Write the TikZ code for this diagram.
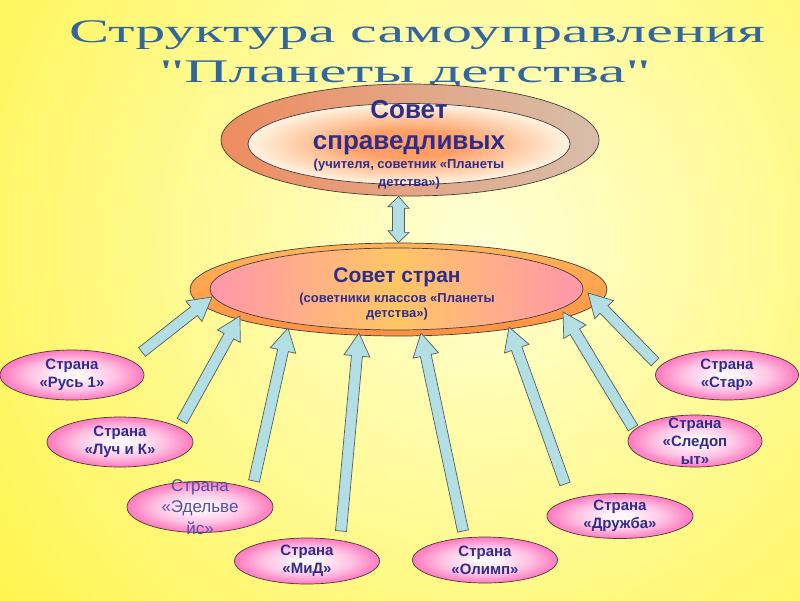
\documentclass[tikz,border=0pt]{standalone}
\usepackage{fontspec}
\setmainfont{Liberation Sans}
\newfontfamily\titlefont{Liberation Serif}
\usetikzlibrary{shapes.geometric,calc}
\definecolor{bgin}{RGB}{255,255,214}
\definecolor{bgout}{RGB}{255,244,70}
\definecolor{tblue}{RGB}{50,102,158}
\definecolor{nblue}{RGB}{46,46,138}
\definecolor{eblue}{RGB}{80,80,170}
\definecolor{abl}{RGB}{178,222,228}
\definecolor{aline}{RGB}{80,95,95}
\definecolor{eline}{RGB}{70,60,60}
\definecolor{pk}{RGB}{255,120,190}
\definecolor{pkm}{RGB}{255,195,228}
\definecolor{pkc}{RGB}{255,246,250}
\definecolor{tor}{RGB}{255,158,100}
\definecolor{tcr}{RGB}{255,244,225}
\definecolor{byel}{RGB}{255,198,100}
\definecolor{bpk}{RGB}{255,150,172}
\definecolor{ringL}{RGB}{238,140,95}
\definecolor{ringR}{RGB}{215,190,170}
\definecolor{orT}{RGB}{255,180,90}
\definecolor{orB}{RGB}{255,145,65}
\pgfdeclareradialshading{bgsh}{\pgfpointorigin}{color(0bp)=(bgin); color(25bp)=(bgout); color(50bp)=(bgout)}
\pgfdeclareradialshading{smallsh}{\pgfpointorigin}{color(0bp)=(pkc); color(4bp)=(pkc); color(15bp)=(pkm); color(25bp)=(pk); color(50bp)=(pk)}
\pgfdeclareradialshading{topsh}{\pgfpointorigin}{color(0bp)=(tor); color(8bp)=(tor); color(25bp)=(tcr); color(50bp)=(tcr)}
\newdimen\myax \newdimen\myay
\makeatletter
\newcommand\fatarrow[2]{%
  \pgfmathanglebetweenpoints{\pgfpointanchor{#1}{center}}{\pgfpointanchor{#2}{center}}%
  \let\myang\pgfmathresult
  \pgfpointdiff{\pgfpointanchor{#1}{center}}{\pgfpointanchor{#2}{center}}%
  \myax=\pgf@x \myay=\pgf@y
  \pgfmathveclen{\myax}{\myay}\let\mylen\pgfmathresult
  \begin{scope}[shift={(#1)},rotate=\myang]
    \draw[fatarr] (0pt,-5.5pt) -- ({\mylen pt-23pt},-5.5pt) -- ({\mylen pt-23pt},-13pt)
      -- ({\mylen pt},0pt) -- ({\mylen pt-23pt},13pt) -- ({\mylen pt-23pt},5.5pt)
      -- (0pt,5.5pt) -- cycle;
  \end{scope}}
\makeatother
\begin{document}
\begin{tikzpicture}[x=1pt,y=-1pt,
  titlesty/.style={font=\titlefont\fontsize{33}{40}\selectfont, text=tblue, inner sep=0pt, anchor=base},
  fatarr/.style={draw=aline, fill=abl, line width=0.7pt, line join=miter},
  country/.style={ellipse, draw=eline, line width=0.7pt, shade, shading=smallsh, inner sep=0pt},
  ctext/.style={align=center, font=\bfseries\fontsize{15}{18}\selectfont, text=nblue},
  bigtxt/.style={font=\bfseries\fontsize{26}{31}\selectfont, text=nblue, inner sep=0pt, anchor=base},
  midtxt/.style={font=\bfseries\fontsize{21}{25}\selectfont, text=nblue, inner sep=0pt, anchor=base},
  subtxt/.style={font=\bfseries\fontsize{13}{16}\selectfont, text=nblue, inner sep=0pt, anchor=base}]
\useasboundingbox (0,0) rectangle (800,600);
\begin{scope}
  \clip (0,0) rectangle (800,600);
  \path[shading=bgsh] (480,240) circle[radius=640];
\end{scope}
% title
\node[titlesty] (t1) at (417,42) {\scalebox{1.82}[1]{Структура самоуправления}};
\node[titlesty] (t2) at (405,82) {\scalebox{1.86}[1]{"Планеты детства"}};
% top council
\node[ellipse, draw=eline, line width=0.7pt, left color=ringL, right color=ringR,
      minimum width=378pt, minimum height=112pt, inner sep=0pt] (sovout) at (410,140) {};
\node[ellipse, draw=eline, line width=0.7pt, shade, shading=topsh,
      minimum width=322pt, minimum height=81pt, inner sep=0pt] (sovin) at (409,144) {};
% countries council
\node[ellipse, draw=eline, line width=0.7pt, top color=orT, bottom color=orB,
      minimum width=417pt, minimum height=93pt, inner sep=0pt] (stout) at (398.5,289.5) {};
\node[ellipse, draw=eline, line width=0.7pt, left color=bpk, right color=bpk, middle color=byel,
      minimum width=373pt, minimum height=82pt, inner sep=0pt] (stin) at (396.5,289) {};
% texts
\node[bigtxt] (sovt1) at (409,118) {Совет};
\node[bigtxt] (sovt2) at (409,149) {справедливых};
\node[subtxt] (sovs1) at (409,168) {(учителя, советник «Планеты};
\node[subtxt] (sovs2) at (409,186) {детства»)};
\node[midtxt] (stt1) at (397,282) {Совет стран};
\node[subtxt] (sts1) at (397,302) {(советники классов «Планеты};
\node[subtxt] (sts2) at (397,317) {детства»)};
% double arrow
\coordinate (da1) at (sovout.south -| stout.north);
\coordinate (da2) at (stout.north);
\draw[fatarr] (da1) -- ++(10.5,12) -- ++(-4.5,0) -- ++(0,24) -- ++(4.5,0) -- (da2)
  -- ++(-10.5,-12) -- ++(4.5,0) -- ++(0,-24) -- ++(-4.5,0) -- cycle;
% arrow end points
\coordinate (a1s) at (142,352); \coordinate (a1e) at (212,297);
\coordinate (a2s) at (182,421); \coordinate (a2e) at (240,316);
\coordinate (a3s) at (254,481); \coordinate (a3e) at (288,328);
\coordinate (a4s) at (341,531); \coordinate (a4e) at (359,333);
\coordinate (a5s) at (463,531); \coordinate (a5e) at (421,333);
\coordinate (a6s) at (565,484); \coordinate (a6e) at (509,327);
\coordinate (a7s) at (633,428); \coordinate (a7e) at (563,312);
\coordinate (a8s) at (655,362); \coordinate (a8e) at (588,293);
\fatarrow{a1s}{a1e}
\fatarrow{a2s}{a2e}
\fatarrow{a3s}{a3e}
\fatarrow{a4s}{a4e}
\fatarrow{a5s}{a5e}
\fatarrow{a6s}{a6e}
\fatarrow{a7s}{a7e}
\fatarrow{a8s}{a8e}
% countries
\node[country, minimum width=144pt, minimum height=50pt,
      label={[ctext]center:Страна\\«Русь 1»}] (rus) at (72,375) {};
\node[country, minimum width=146pt, minimum height=50pt,
      label={[ctext]center:Страна\\«Луч и К»}] (luch) at (120,442) {};
\node[country, minimum width=146pt, minimum height=51pt,
      label={[align=center, font=\fontsize{17}{21.5}\selectfont, text=eblue]center:Страна\\«Эдельве\\йс»}] (edel) at (200,507) {};
\node[country, minimum width=145pt, minimum height=46pt,
      label={[ctext]center:Страна\\«МиД»}] (mid) at (307,561) {};
\node[country, minimum width=145pt, minimum height=46pt,
      label={[ctext]center:Страна\\«Олимп»}] (olimp) at (485,560) {};
\node[country, minimum width=146pt, minimum height=45pt,
      label={[ctext]center:Страна\\«Дружба»}] (druzh) at (620,516) {};
\node[country, minimum width=134pt, minimum height=52pt,
      label={[ctext]center:Страна\\«Следоп\\ыт»}] (sled) at (695,441) {};
\node[country, minimum width=143pt, minimum height=50pt,
      label={[ctext]center:Страна\\«Стар»}] (star) at (727,375) {};
\end{tikzpicture}
\end{document}
